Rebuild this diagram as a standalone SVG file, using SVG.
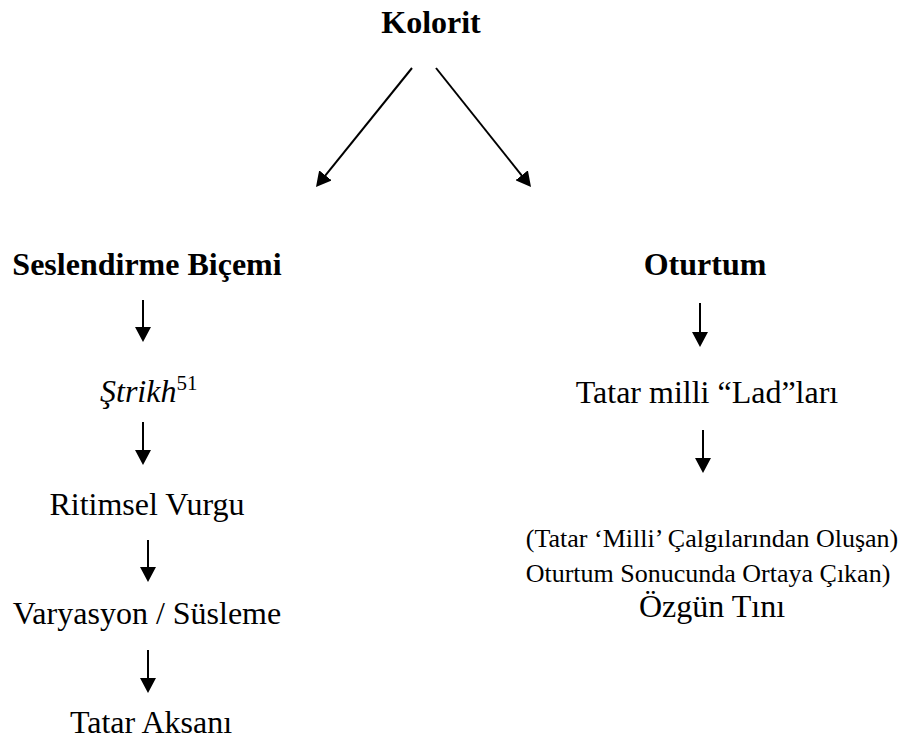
<svg xmlns="http://www.w3.org/2000/svg" width="904" height="742" viewBox="0 0 904 742">
<style>
.t{font-size:32px;text-anchor:middle;fill:#000}
.b{font-weight:bold}
.s{font-size:26px}
.c{stroke:#000;stroke-width:2;fill:none}
</style>
<defs>
<marker id="ah" viewBox="0 0 15 16" refX="7" refY="8" markerWidth="15" markerHeight="16" markerUnits="userSpaceOnUse" orient="auto">
<path d="M0,0 L15,8 L0,16 z" fill="#000"/>
</marker>
</defs>
<rect width="904" height="742" fill="#fff"/>
<g id="connectors">
<line class="c" x1="412" y1="68" x2="321" y2="180.8" marker-end="url(#ah)"/>
<line class="c" x1="436" y1="68" x2="526" y2="180.8" marker-end="url(#ah)"/>
<line class="c" x1="143" y1="300" x2="143" y2="334" marker-end="url(#ah)"/>
<line class="c" x1="143" y1="422" x2="143" y2="457" marker-end="url(#ah)"/>
<line class="c" x1="148" y1="540" x2="148" y2="574" marker-end="url(#ah)"/>
<line class="c" x1="148" y1="650" x2="148" y2="685" marker-end="url(#ah)"/>
<line class="c" x1="700" y1="303" x2="700" y2="339" marker-end="url(#ah)"/>
<line class="c" x1="703" y1="430" x2="703" y2="465" marker-end="url(#ah)"/>
</g>
<g font-family="Liberation Serif, DejaVu Serif, serif">
<g id="kolorit"><text class="t b" x="431" y="33">Kolorit</text></g>
<g id="seslendirme"><text class="t b" x="147" y="275">Seslendirme Biçemi</text></g>
<g id="strikh"><text class="t" x="100" y="402" text-anchor="start" style="text-anchor:start"><tspan font-style="italic">Ştrikh</tspan><tspan font-size="21" dy="-12">51</tspan></text></g>
<g id="ritimsel"><text class="t" x="147" y="515">Ritimsel Vurgu</text></g>
<g id="varyasyon"><text class="t" x="147" y="624">Varyasyon / Süsleme</text></g>
<g id="aksan"><text class="t" x="151" y="733">Tatar Aksanı</text></g>
<g id="oturtum"><text class="t b" x="705" y="275">Oturtum</text></g>
<g id="lad"><text class="t" x="707" y="403">Tatar milli “Lad”ları</text></g>
<g id="tini">
<text class="t s" x="712" y="547">(Tatar ‘Milli’ Çalgılarından Oluşan)</text>
<text class="t s" x="708" y="582">Oturtum Sonucunda Ortaya Çıkan)</text>
<text class="t" x="712" y="617">Özgün Tını</text>
</g>
</g>
</svg>
